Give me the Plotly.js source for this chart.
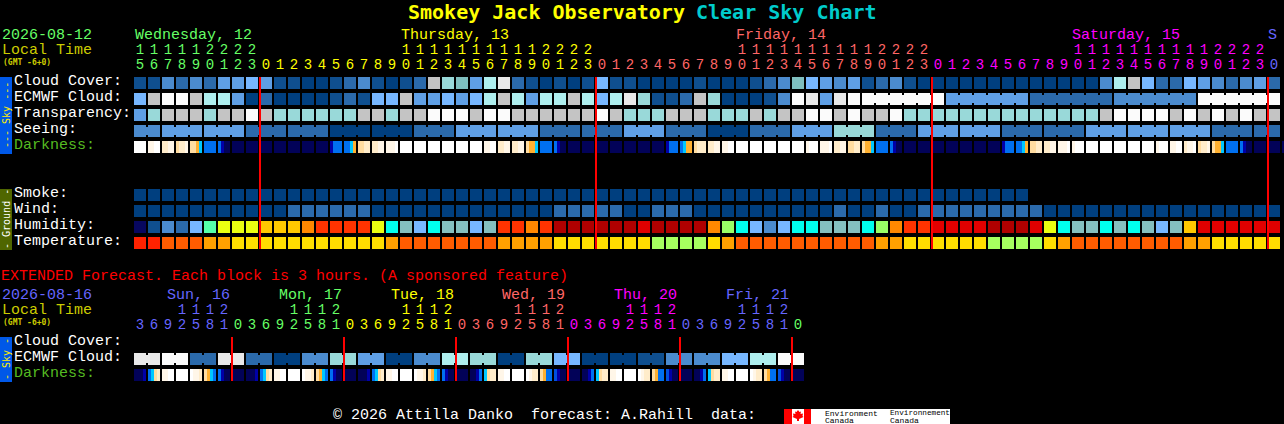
<!DOCTYPE html>
<html><head><meta charset="utf-8">
<script src="https://cdn.plot.ly/plotly-3.0.1.min.js"></script>
<style>html,body{margin:0;padding:0;background:#000;overflow:hidden}</style>
</head><body><div id="chart"></div>
<script>
// ---------- data: hours along each strip ----------
const hoursMain = [15,16,17,18,19,20,21,22,23,
  0,1,2,3,4,5,6,7,8,9,10,11,12,13,14,15,16,17,18,19,20,21,22,23,
  0,1,2,3,4,5,6,7,8,9,10,11,12,13,14,15,16,17,18,19,20,21,22,23,
  0,1,2,3,4,5,6,7,8,9,10,11,12,13,14,15,16,17,18,19,20,21,22,23,0];
const hoursExt = [3,6,9,12,15,18,21,
  0,3,6,9,12,15,18,21, 0,3,6,9,12,15,18,21, 0,3,6,9,12,15,18,21,
  0,3,6,9,12,15,18,21, 0,3,6,9,12,15,18,21, 0];
const dayColorsMain = ['#66ff66','#ffff00','#ff6666','#ff00ff','#6666ff'];
const dayColorsExt = ['#6666ff','#66ff66','#ffff00','#ff6666','#ff00ff','#6666ff','#66ff66'];

// ---------- data: forecast levels (index into the palettes) ----------
const cloudCover = [1,1,3,2,3,2,4,4,5,4,1,1,0,0,1,2,3,1,0,1,2,9,7,6,4,8,10,2,1,0,1,0,1,5,1,1,0,0,0,0,1,0,0,0,1,2,3,6,5,4,3,4,
  1,2,3,1,0,0,0,0,0,0,0,0,0,0,0,0,0,3,8,9,5,2,2,5,4,3,2,3,4,2];
const ecmwfCloud = [5,9,11,11,9,8,8,4,0,2,0,0,0,0,1,2,1,5,5,9,4,4,5,4,5,8,9,8,4,8,8,9,8,5,8,10,7,1,1,2,9,7,0,0,0,1,3,11,10,4,10,11,
  11,11,11,11,11,11,4,4,4,4,4,4,2,2,2,2,2,2,3,3,3,3,3,3,11,11,11,11,11,11];
const ecmwfGroups = [0,1,2,3,4,5,6,7,8,9,10,11,12,13,14,15,16,17,18,19,20,21,22,23,24,25,26,27,28,29,30,31,32,33,34,35,36,37,38,39,40,41,42,43,44,45,46,47,48,49,50,51,
  52,52,52,52,52,52,58,58,58,58,58,58,64,64,64,64,64,64,70,70,70,70,70,70,76,76,76,76,76,76];
const transparency = [4,7,9,9,9,7,9,9,11,9,7,7,7,7,7,7,9,9,7,9,9,11,11,11,9,11,11,9,9,9,9,9,9,11,9,7,7,7,9,9,9,7,7,7,9,7,9,9,11,11,9,11,
  9,9,11,7,7,7,7,7,7,7,7,7,7,7,7,7,7,9,11,11,11,11,9,11,9,11,9,11,9,9];
const seeing = [3,3,4,4,4,4,4,4,2,2,2,2,2,2,0,0,0,0,0,0,2,2,2,4,4,4,4,4,4,2,2,2,2,2,2,4,4,4,2,2,2,0,0,0,2,2,2,4,4,4,7,7,7,
  2,2,2,4,4,4,4,4,4,2,2,2,2,2,2,4,4,4,4,4,4,4,4,4,2,2,2,2,2];
const seeingGroups = [0,0,2,2,2,5,5,5,8,8,8,11,11,11,14,14,14,17,17,17,20,20,20,23,23,23,26,26,26,29,29,29,32,32,32,35,35,35,38,38,38,41,41,41,44,44,44,47,47,47,50,50,50,
  53,53,53,56,56,56,59,59,59,62,62,62,65,65,65,68,68,68,71,71,71,74,74,74,77,77,77,80,80];
const darkness = [
  [9,9,9,9],[8,8,9,9],[7,7,8,8],[6,7,7,8],[6,6,5,4],[3,3,3,3],[3,1,0,0],[0,0,0,0],[0,0,0,0],[0,0,0,0],[0,0,0,0],[0,0,0,0],[0,0,0,0],[0,0,0,0],
  [1,3,3,3],[3,3,4,5],[6,6,7,7],[7,7,8,8],[8,8,8,9],[9,9,9,9],[9,9,9,9],[9,9,9,9],[9,9,9,9],[9,9,9,9],[9,9,9,9],[8,8,9,9],[7,7,8,8],[7,7,8,8],[6,5,5,4],
  [3,3,3,3],[3,1,0,0],[0,0,0,0],[0,0,0,0],[0,0,0,0],[0,0,0,0],[0,0,0,0],[0,0,0,0],[0,0,0,0],[1,3,3,3],[3,4,5,5],[6,7,7,7],[7,7,8,8],[8,8,9,9],[9,9,9,9],
  [9,9,9,9],[9,9,9,9],[9,9,9,9],[9,9,9,9],[8,9,9,9],[8,8,8,9],[7,7,8,8],[6,6,7,7],[6,5,5,4],[3,3,3,3],[3,1,0,0],[0,0,0,0],[0,0,0,0],[0,0,0,0],[0,0,0,0],[0,0,0,0],[0,0,0,0],[0,0,0,0],
  [1,3,3,3],[3,3,4,5],[6,6,7,7],[7,7,8,8],[8,8,8,9],[8,9,9,9],[9,9,9,9],[9,9,9,9],[9,9,9,9],[9,9,9,9],[9,9,9,9],[8,9,9,9],[8,8,9,9],[7,8,8,9],[6,7,7,8],
  [6,5,5,4],[3,3,3,3],[3,1,0,0],[0,0,0,0],[0,0,0,0],[0,0,0,0],[0,0,0,0]];
const smoke = [0,0,0,0,0,0,0,0,0,0,0,0,0,0,0,0,0,0,0,0,0,0,0,0,0,0,0,0,0,0,0,0,0,0,0,0,0,0,0,0,0,0,0,0,0,0,0,0,0,0,0,0,0,0,0,0,0,0,0,0,0,0,0,0];
const wind = [0,0,0,0,0,0,0,0,0,0,0,2,2,2,2,2,2,0,0,0,0,0,0,0,0,0,0,0,0,0,2,2,2,2,2,0,0,2,2,2,0,0,0,0,0,0,0,0,0,0,2,0,
  0,2,0,0,2,2,2,2,2,2,2,2,2,0,0,0,0,0,0,0,0,0,0,0,0,0,0,0,0,0];
const humidity = [0,1,3,2,4,7,9,9,9,10,10,10,11,12,12,12,12,9,6,5,4,6,5,5,4,5,12,12,11,12,14,14,14,14,14,14,13,14,14,14,14,11,8,6,4,3,4,6,6,5,5,5,
  6,8,11,12,12,13,13,13,13,14,14,14,13,9,6,5,5,6,5,6,5,4,5,10,13,13,13,13,13,13];
const temperature = [4,4,3,3,3,2,2,1,1,1,1,1,1,1,1,1,1,1,2,3,3,3,3,3,3,3,2,2,2,2,1,1,1,1,1,1,1,0,0,0,0,1,2,3,3,3,3,3,3,3,3,3,
  3,2,2,1,1,1,1,1,1,0,0,0,0,1,2,3,3,3,3,3,3,3,3,2,2,1,1,1,1,1];
// extended forecast: 3-hour slots
const extEcmwf = [10,10,11,11,2,2,10,10,2,2,0,0,3,3,7,7,4,4,0,0,3,3,8,8,7,7,0,0,7,7,5,5,0,0,0,0,1,1,3,3,3,3,5,5,8,8,11,11];
const extGroups = [0,0,1,1,2,2,3,3,4,4,5,5,6,6,7,7,8,8,9,9,10,10,11,11,12,12,13,13,14,14,15,15,16,16,17,17,18,18,19,19,20,20,21,21,22,22,23,23];
const extDarkness = [
  [0,0,0,1],[3,4,6,7],[8,8,9,9],[9,9,9,9],[9,8,8,7],[6,5,4,3],[3,1,0,0],[0,0,0,0],
  [0,0,0,1],[3,4,6,7],[8,8,9,9],[9,9,9,9],[9,8,8,7],[6,5,4,3],[3,1,0,0],[0,0,0,0],
  [0,0,0,1],[3,4,6,7],[8,8,9,9],[9,9,9,9],[9,8,8,7],[6,5,4,3],[3,1,0,0],[0,0,0,0],
  [0,0,1,3],[4,6,7,7],[8,8,9,9],[9,9,9,9],[9,8,7,7],[6,5,3,3],[2,1,0,0],[0,0,0,0],
  [0,0,1,3],[4,6,7,7],[8,8,9,9],[9,9,9,9],[9,8,7,7],[6,5,3,3],[2,1,0,0],[0,0,0,0],
  [0,0,1,3],[4,6,7,7],[8,8,9,9],[9,9,9,9],[9,8,7,7],[6,5,3,3],[2,1,0,0],[0,0,0,0]];

// ---------- labels ----------
const skyLabels = ['Cloud Cover:','ECMWF Cloud:','Transparency:','Seeing:','Darkness:'];
const groundLabels = ['Smoke:','Wind:','Humidity:','Temperature:'];
const extLabels = ['Cloud Cover:','ECMWF Cloud:','Darkness:'];
const dayLabels = ['Wednesday, 12','Thursday, 13','Friday, 14','Saturday, 15','S'];
const extDayLabels = ['Sun, 16','Mon, 17','Tue, 18','Wed, 19','Thu, 20','Fri, 21'];

// ---------- palettes ----------
const cloudPal = ['#003f7f','#0f4f8f','#2b6aab','#4b8bce','#5f9fe5','#77b7ff','#7fbfbf','#99d9d9','#aeeeee','#c4c4c4','#e9e9e9','#fbfbfb'];
const darkPal = ['#020258','#0000a8','#0050e0','#0070f0','#00c8ff','#ffb030','#ffdca0','#ffecca','#fff6e8','#ffffff'];
const humPal = ['#07075f','#0f4f8f','#2b6aab','#4b8bce','#77b7ff','#84bfbf','#00ffee','#55ffaa','#99ff66','#eaff11','#ffc800','#ff8800','#ff3300','#e00000','#b00000'];
const tempPal = ['#a6ff5f','#ffdd00','#ffa000','#ff5c00','#ff2200'];

// ---------- layout helpers (pixel grid of the chart) ----------
const W = 1284, H = 424, PITCH = 14, BLOCK = 12, X0 = 140;
const xu = px => (px - X0) / PITCH;
const traces = [];
function blocks(vals, pal, top) {
  traces.push({type:'bar', x: vals.map((_, i) => i), y: vals.map(() => BLOCK), base: top,
    width: BLOCK / PITCH, marker: {color: vals.map(v => pal[v]), line: {width: 0}}, hoverinfo: 'skip'});
}
function joins(vals, groups, pal, top) {
  const xs = [], cs = [];
  vals.forEach((v, i) => { if (i + 1 < vals.length && groups[i] === groups[i + 1]) { xs.push(i + 0.5); cs.push(pal[v]); } });
  traces.push({type:'bar', x: xs, y: xs.map(() => 8), base: top + 2, width: 2 / PITCH,
    marker: {color: cs, line: {width: 0}}, hoverinfo: 'skip'});
}
function fine(rows, pal, top) {
  const xs = [], cs = [];
  rows.forEach((r, i) => r.forEach((v, k) => { xs.push(i + (k - 1.5) * 3 / PITCH); cs.push(pal[v]); }));
  traces.push({type:'bar', x: xs, y: xs.map(() => BLOCK), base: top, width: 3 / PITCH,
    marker: {color: cs, line: {width: 0}}, hoverinfo: 'skip'});
}
function digits(hours, colors, yTens, yOnes) {
  let d = 0; const col = hours.map((h, i) => { if (h === 0 && i > 0) d++; return colors[d]; });
  const font = {family: 'Liberation Mono', size: 14};
  traces.push({type:'scatter', mode:'text', x: hours.map((_, i) => i), y: hours.map(() => yOnes),
    text: hours.map(h => String(h % 10)), textposition:'middle center', cliponaxis:false,
    textfont: Object.assign({color: col}, font), hoverinfo:'skip'});
  const t = hours.map((h, i) => i).filter(i => hours[i] >= 10);
  traces.push({type:'scatter', mode:'text', x: t, y: t.map(() => yTens),
    text: t.map(i => String(Math.floor(hours[i] / 10))), textposition:'middle center', cliponaxis:false,
    textfont: Object.assign({color: t.map(i => col[i])}, font), hoverinfo:'skip'});
}

// strips
blocks(cloudCover, cloudPal, 77);
blocks(ecmwfCloud, cloudPal, 93); joins(ecmwfCloud, ecmwfGroups, cloudPal, 93);
blocks(transparency, cloudPal, 109);
blocks(seeing, cloudPal, 125); joins(seeing, seeingGroups, cloudPal, 125);
fine(darkness, darkPal, 141);
blocks(smoke, cloudPal, 189);
blocks(wind, cloudPal, 205);
blocks(humidity, humPal, 221);
blocks(temperature, tempPal, 237);
blocks(extEcmwf, cloudPal, 353); joins(extEcmwf, extGroups, cloudPal, 353);
fine(extDarkness, darkPal, 369);
digits(hoursMain, dayColorsMain, 50, 65);
digits(hoursExt, dayColorsExt, 310, 325);

// shapes
const shapes = [];
const rect = (x0, y0, x1, y1, c) => shapes.push({type:'rect', xref:'x', yref:'y', x0: xu(x0), x1: xu(x1), y0, y1, fillcolor: c, line:{width:0}, layer:'below'});
rect(0, 77, 12, 154, '#0058e8');
rect(0, 189, 12, 250, '#4f6600');
rect(0, 337, 12, 382, '#0058e8');
const midnights = (hours, y0, y1) => hours.forEach((h, i) => { if (h === 0) shapes.push({type:'line', xref:'x', yref:'y',
  x0: i - (BLOCK / 2) / PITCH, x1: i - (BLOCK / 2) / PITCH, y0, y1, line:{color:'#ff0000', width:2}, layer:'above'}); });
midnights(hoursMain, 77, 249);
midnights(hoursExt, 337, 381);
// Canada wordmark
rect(784, 409, 950, 424, '#ffffff');
rect(784, 409, 792, 424, '#ff0000');
rect(804, 409, 811, 424, '#ff0000');
const leaf = [[798,410],[799.5,412],[801,411.5],[800.5,414],[803,413.5],[802.5,416],[803.5,417],[799,419],[799,421],[797,421],[797,419],[792.5,417],[793.5,416],[793,413.5],[795.5,414],[795,411.5],[796.5,412]];
shapes.push({type:'path', xref:'x', yref:'y', path: 'M' + leaf.map(p => xu(p[0]).toFixed(4) + ',' + p[1]).join(' L') + ' Z', fillcolor:'#ff0000', line:{width:0}, layer:'above'});

// text
const MONO = 'Liberation Mono';
const ann = [];
function label(text, x, y, color, size, extra) {
  ann.push(Object.assign({text, xref:'x', yref:'y', x: xu(Math.max(x - 1, 0)), y, xanchor:'left', yanchor:'middle', showarrow:false,
    borderpad:0, font:{family: MONO, size: size || 15, color}}, extra || {}));
}
const BOLD = c => ({font:{family:'DejaVu Sans Mono',size:20,color:c,weight:700}});
label('Smokey Jack Observatory', 408, 12, '#ffff00', 20, BOLD('#ffff00'));
label('Clear Sky Chart', 696, 12, '#00cccc', 20, BOLD('#00cccc'));
const GMT = {font:{family:'DejaVu Sans Mono',size:8,color:'#cccc00',weight:700}};
label('2026-08-12', 2, 35, '#66ff66');
label('Local Time', 2, 50, '#cccc00');
label('(GMT -6+0)', 3, 62, '#cccc00', 8, GMT);
dayLabels.forEach((t, i) => label(t, [135,401,736,1072,1268][i], 35, dayColorsMain[i]));
skyLabels.forEach((t, i) => label(t, 14, 81 + 16 * i, t === 'Darkness:' ? '#55bb22' : '#ffffff'));
groundLabels.forEach((t, i) => label(t, 14, 193 + 16 * i, '#ffffff'));
label('EXTENDED Forecast. Each block is 3 hours. (A sponsored feature)', 0, 276, '#ff0000');
label('2026-08-16', 2, 295, '#6666ff');
label('Local Time', 2, 310, '#cccc00');
label('(GMT -6+0)', 3, 322, '#cccc00', 8, GMT);
extDayLabels.forEach((t, i) => label(t, 167 + 111.8 * i, 295, dayColorsExt[i]));
extLabels.forEach((t, i) => label(t, 14, 341 + 16 * i, t === 'Darkness:' ? '#55bb22' : '#ffffff'));
label('© 2026 Attilla Danko  forecast: A.Rahill  data:', 333, 415, '#ffffff');
label('Environment', 825, 413, '#000000', 8);
label('Canada', 825, 420, '#000000', 8);
label('Environnement', 890, 413, '#000000', 7.7);
label('Canada', 890, 420, '#000000', 8);
const vert = (t, y, c) => ann.push({text:t, xref:'x', yref:'y', x: xu(6), y, xanchor:'center', yanchor:'middle', textangle:-90, showarrow:false,
  borderpad:0, font:{family:'DejaVu Sans Mono', size:10, color:c}});
vert('--- Sky ---', 115, '#ffee00');
vert('- Ground -', 219, '#ffffff');
vert('- Sky -', 359, '#ffee00');

Plotly.newPlot('chart', traces, {
  width: W, height: H, margin: {l:0, r:0, t:0, b:0, pad:0}, autosize:false,
  paper_bgcolor:'#000000', plot_bgcolor:'#000000', showlegend:false, barmode:'overlay', bargap:0, hovermode:false,
  xaxis: {range: [xu(0), xu(W)], visible:false, fixedrange:true},
  yaxis: {range: [H, 0], visible:false, fixedrange:true},
  shapes, annotations: ann
}, {displayModeBar:false, staticPlot:true});
</script></body></html>
